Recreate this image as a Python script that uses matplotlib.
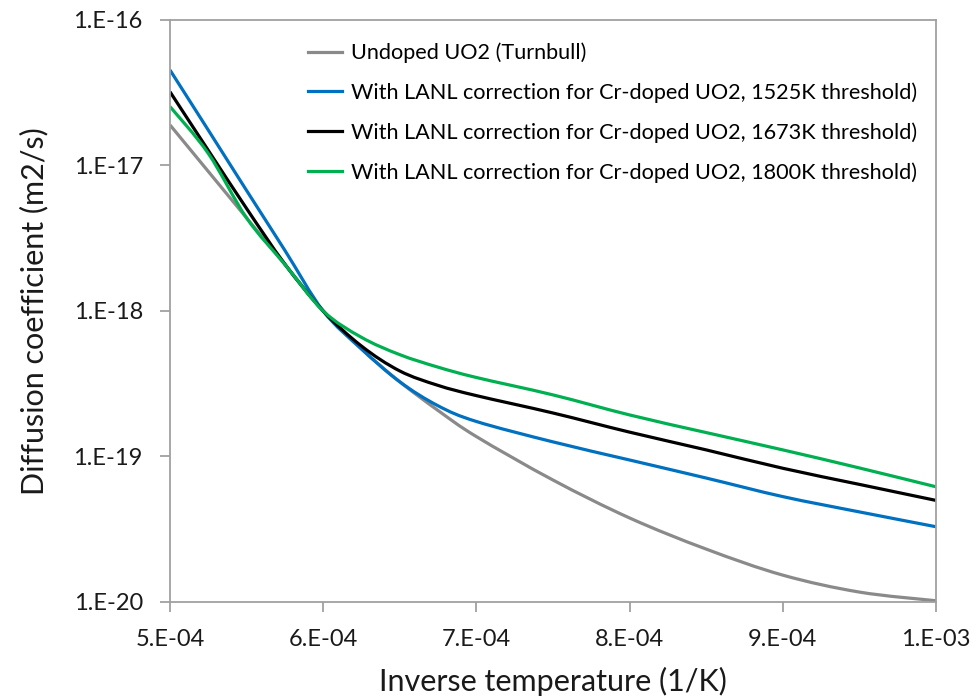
import numpy as np
import matplotlib
matplotlib.use("Agg")
import matplotlib.pyplot as plt
from matplotlib.path import Path
from matplotlib.patches import PathPatch
from matplotlib.lines import Line2D
from matplotlib.ticker import FixedLocator, FixedFormatter, NullLocator

plt.rcParams['font.family'] = ['Lato', 'DejaVu Sans']

# Inverse temperature (1/K)
inv_temp = [5.0e-4, 5.25e-4, 5.5e-4, 5.75e-4, 6.0e-4, 6.25e-4, 6.5e-4, 6.75e-4,
            7.0e-4, 7.5e-4, 8.0e-4, 8.5e-4, 9.0e-4, 9.5e-4, 1.0e-3]

# Diffusion coefficients (m2/s)
d_undoped = [1.90e-17, 9.1e-18, 4.36e-18, 2.09e-18, 1.0e-18, 5.48e-19, 3.26e-19, 2.07e-19,
             1.37e-19, 6.89e-20, 3.78e-20, 2.31e-20, 1.53e-20, 1.17e-20, 1.02e-20]
d_1525 = [4.53e-17, 1.75e-17, 6.73e-18, 2.61e-18, 1.0e-18, 5.48e-19, 3.26e-19, 2.23e-19,
          1.74e-19, 1.26e-19, 9.46e-20, 7.11e-20, 5.30e-20, 4.16e-20, 3.29e-20]
d_1673 = [3.21e-17, 1.27e-17, 5.06e-18, 2.10e-18, 1.0e-18, 5.74e-19, 3.87e-19, 3.08e-19,
          2.62e-19, 1.99e-19, 1.47e-19, 1.11e-19, 8.30e-20, 6.43e-20, 4.99e-20]
d_1800 = [2.54e-17, 1.21e-17, 4.36e-18, 2.09e-18, 1.0e-18, 6.59e-19, 5.01e-19, 4.11e-19,
          3.49e-19, 2.65e-19, 1.93e-19, 1.46e-19, 1.11e-19, 8.34e-20, 6.19e-20]

labels = ["Undoped UO2 (Turnbull)",
          "With LANL correction for Cr-doped UO2, 1525K threshold)",
          "With LANL correction for Cr-doped UO2, 1673K threshold)",
          "With LANL correction for Cr-doped UO2, 1800K threshold)"]
colors = ["#8a8a8a", "#0070C0", "#000000", "#00B050"]

x_ticks = [5e-4, 6e-4, 7e-4, 8e-4, 9e-4, 1e-3]
x_tick_labels = ["5.E-04", "6.E-04", "7.E-04", "8.E-04", "9.E-04", "1.E-03"]
y_ticks = [1e-20, 1e-19, 1e-18, 1e-17, 1e-16]
y_tick_labels = ["1.E-20", "1.E-19", "1.E-18", "1.E-17", "1.E-16"]


def smooth_path(xs, ys):
    """Smoothed (Catmull-Rom style) Bezier path through the points, built in log-y space."""
    x = np.asarray(xs, float)
    ly = np.log10(np.asarray(ys, float))
    p = np.column_stack([x, ly])
    n = len(p)
    verts = [p[0]]
    codes = [Path.MOVETO]
    for i in range(n - 1):
        p0 = p[i - 1] if i > 0 else p[i]
        p1 = p[i]
        p2 = p[i + 1]
        p3 = p[i + 2] if i + 2 < n else p[i + 1]
        c1 = p1 + (p2 - p0) / 6.0
        c2 = p2 - (p3 - p1) / 6.0
        verts.extend([c1, c2, p2])
        codes.extend([Path.CURVE4] * 3)
    v = np.array(verts)
    v[:, 1] = 10.0 ** v[:, 1]
    return Path(v, codes)


fig = plt.figure(figsize=(9.74, 7.0), dpi=100)
ax = fig.add_axes([0.1745, 0.14, 0.7865, 0.8315])
ax.set_xscale("linear")
ax.set_yscale("log")
ax.set_xlim(5e-4, 1e-3)
ax.set_ylim(1e-20, 1e-16)

lw = 2.3
for ys, c in zip([d_undoped, d_1525, d_1673, d_1800], colors):
    patch = PathPatch(smooth_path(inv_temp, ys), facecolor="none", edgecolor=c,
                      lw=lw, joinstyle="round", capstyle="butt")
    ax.add_patch(patch)

handles = [Line2D([], [], color=c, lw=lw) for c in colors]
ax.legend(handles, labels, loc="upper left", bbox_to_anchor=(0.169, 0.976),
          frameon=False, fontsize=15.6, handlelength=1.55, handletextpad=0.45,
          labelspacing=0.89, borderaxespad=0.0)

ax.xaxis.set_major_locator(FixedLocator(x_ticks))
ax.xaxis.set_major_formatter(FixedFormatter(x_tick_labels))
ax.yaxis.set_major_locator(FixedLocator(y_ticks))
ax.yaxis.set_major_formatter(FixedFormatter(y_tick_labels))
ax.xaxis.set_minor_locator(NullLocator())
ax.yaxis.set_minor_locator(NullLocator())

spine_color = "#a0a0a0"
for s in ax.spines.values():
    s.set_color(spine_color)
    s.set_linewidth(1.3)
ax.tick_params(axis="both", which="major", direction="out", length=7.5, width=1.3,
               color=spine_color, labelsize=17, labelcolor="#1a1a1a", pad=12)

ax.set_xlabel("Inverse temperature (1/K)", fontsize=22, color="#1a1a1a", labelpad=12)
ax.set_ylabel("Diffusion coefficient (m2/s)", fontsize=22, color="#1a1a1a", labelpad=18)

fig.savefig("out.png", dpi=100, facecolor="white")
